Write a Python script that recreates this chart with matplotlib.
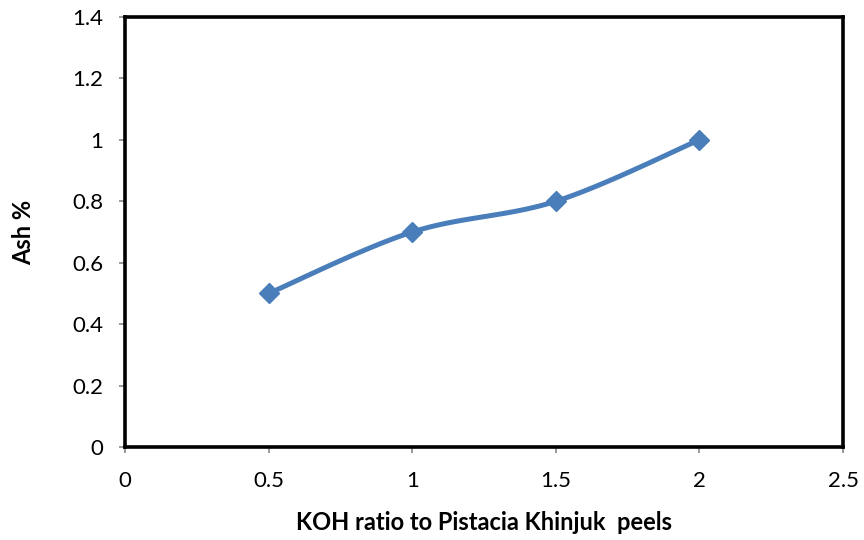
import numpy as np
import matplotlib
matplotlib.use('Agg')
import matplotlib.pyplot as plt

# data
koh_ratio = [0.5, 1.0, 1.5, 2.0]
ash_pct = [0.5, 0.7, 0.8, 1.0]
x_ticks = [0, 0.5, 1, 1.5, 2, 2.5]
x_tick_labels = ['0', '0.5', '1', '1.5', '2', '2.5']
y_ticks = [0, 0.2, 0.4, 0.6, 0.8, 1.0, 1.2, 1.4]
y_tick_labels = ['0', '0.2', '0.4', '0.6', '0.8', '1', '1.2', '1.4']

LINE_COLOR = '#4a7ebb'


def smooth_curve(x, y, n=40):
    """Excel-like smoothed line: bezier segments with catmull-rom control points"""
    x = np.asarray(x, float)
    y = np.asarray(y, float)
    px = np.concatenate([[x[0]], x, [x[-1]]])
    py = np.concatenate([[y[0]], y, [y[-1]]])
    xs, ys = [], []
    t = np.linspace(0, 1, n)
    for i in range(1, len(px) - 2):
        p0 = np.array([px[i], py[i]])
        p3 = np.array([px[i + 1], py[i + 1]])
        p1 = p0 + (np.array([px[i + 1], py[i + 1]]) - np.array([px[i - 1], py[i - 1]])) / 6.0
        p2 = p3 - (np.array([px[i + 2], py[i + 2]]) - np.array([px[i], py[i]])) / 6.0
        b = ((1 - t) ** 3)[:, None] * p0 + (3 * (1 - t) ** 2 * t)[:, None] * p1 \
            + (3 * (1 - t) * t ** 2)[:, None] * p2 + (t ** 3)[:, None] * p3
        xs.extend(b[:, 0])
        ys.extend(b[:, 1])
    return np.array(xs), np.array(ys)


plt.rcParams['font.family'] = ['Lato', 'DejaVu Sans']

fig = plt.figure(figsize=(8.64, 5.4), dpi=100)
ax = fig.add_axes([0.1447, 0.1722, 0.831, 0.7963])

sx, sy = smooth_curve(koh_ratio, ash_pct)
ax.plot(sx, sy, color=LINE_COLOR, lw=3.6, solid_capstyle='round', zorder=3)
ax.plot(koh_ratio, ash_pct, linestyle='none', marker='D', ms=10,
        color=LINE_COLOR, zorder=4)

ax.set_xlim(0, 2.5)
ax.set_ylim(0, 1.4)
ax.set_xticks(x_ticks)
ax.set_xticklabels(x_tick_labels)
ax.set_yticks(y_ticks)
ax.set_yticklabels(y_tick_labels)
ax.tick_params(axis='both', direction='out', length=4.5, width=1.2, color='#888888',
               labelsize=16)
ax.tick_params(axis='y', pad=11)
ax.tick_params(axis='x', pad=13)

for s in ax.spines.values():
    s.set_linewidth(2.6)
    s.set_color('black')

ax.set_xlabel('KOH ratio to Pistacia Khinjuk  peels', fontsize=17, fontweight='bold', labelpad=14)
ax.set_ylabel('Ash %', fontsize=17, fontweight='bold', labelpad=27)

fig.savefig('out.png', dpi=100)
